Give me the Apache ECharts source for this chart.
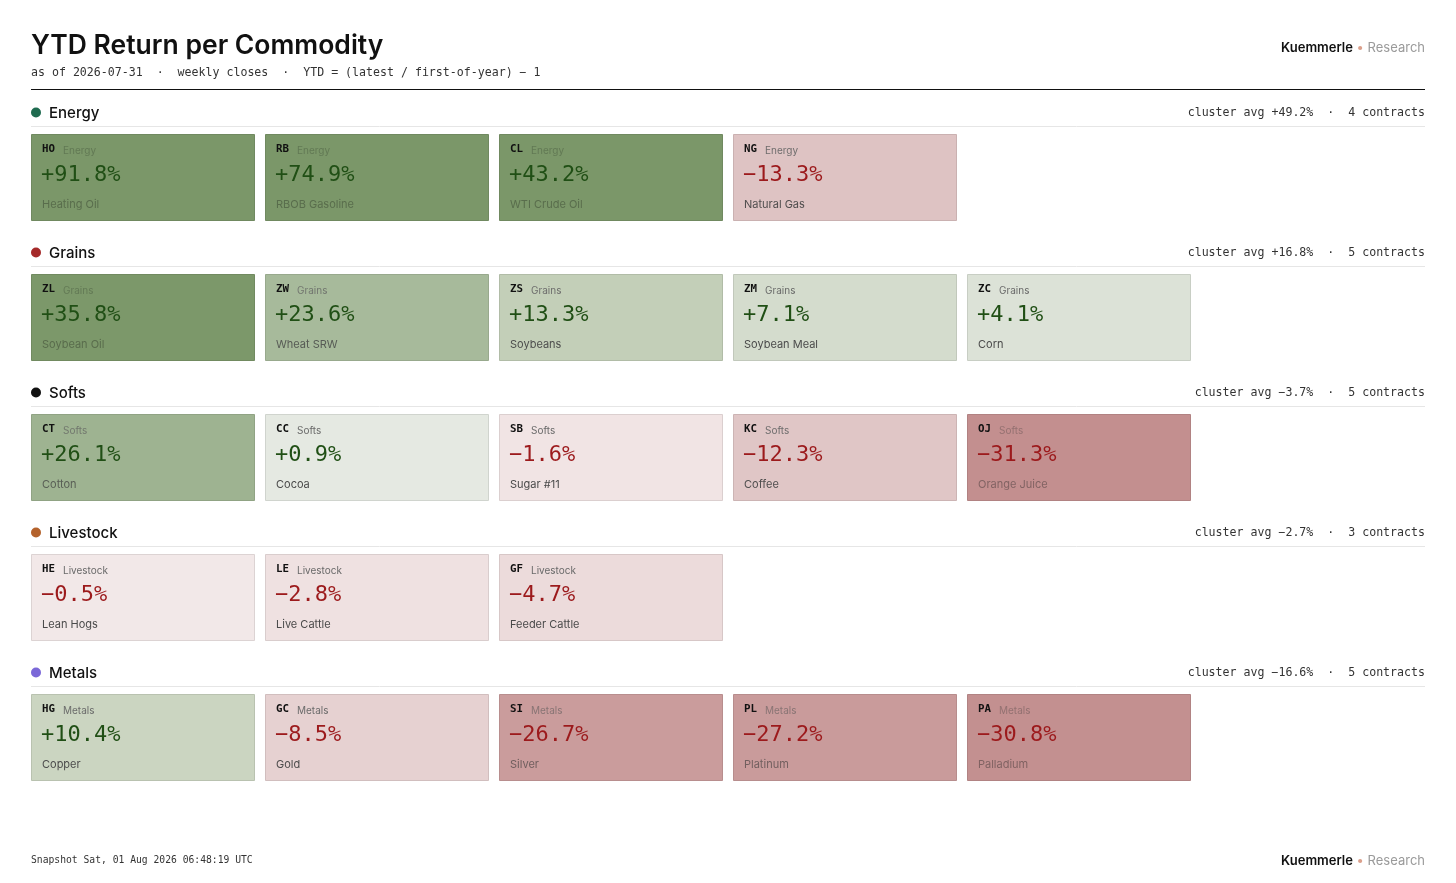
<!DOCTYPE html>
<html lang="en">
<head>
<meta charset="UTF-8">
<title>YTD Return per Commodity</title>
<style>
    html, body { margin: 0; padding: 0; background: #fff; }
    #chart { width: 1456px; height: 883px; }
</style>
</head>
<body>
<div id="chart"></div>
<script src="https://cdn.jsdelivr.net/npm/echarts@6/dist/echarts.min.js"></script>
<script>
    // data
    var clusters = ['Energy', 'Grains', 'Softs', 'Livestock', 'Metals'];
    var columns = ['c1', 'c2', 'c3', 'c4', 'c5', 'c6'];
    var tickers = [
        ['HO', 'RB', 'CL', 'NG'],
        ['ZL', 'ZW', 'ZS', 'ZM', 'ZC'],
        ['CT', 'CC', 'SB', 'KC', 'OJ'],
        ['HE', 'LE', 'GF'],
        ['HG', 'GC', 'SI', 'PL', 'PA']
    ];
    var names = [
        ['Heating Oil', 'RBOB Gasoline', 'WTI Crude Oil', 'Natural Gas'],
        ['Soybean Oil', 'Wheat SRW', 'Soybeans', 'Soybean Meal', 'Corn'],
        ['Cotton', 'Cocoa', 'Sugar #11', 'Coffee', 'Orange Juice'],
        ['Lean Hogs', 'Live Cattle', 'Feeder Cattle'],
        ['Copper', 'Gold', 'Silver', 'Platinum', 'Palladium']
    ];
    var ytd = [
        [91.8, 74.9, 43.2, -13.3],
        [35.8, 23.6, 13.3, 7.1, 4.1],
        [26.1, 0.9, -1.6, -12.3, -31.3],
        [-0.5, -2.8, -4.7],
        [10.4, -8.5, -26.7, -27.2, -30.8]
    ];
    var clusterAvg = [49.2, 16.8, -3.7, -2.7, -16.6];

    var subtitle = 'as of 2026-07-31  \u00b7  weekly closes  \u00b7  YTD = (latest / first-of-year) \u2212 1';
    var snapshot = 'Snapshot Sat, 01 Aug 2026 06:48:19 UTC';

    // styles
    var SANS = 'Inter, "Noto Sans", sans-serif';
    var MONO = '"DejaVu Sans Mono", monospace';
    var dotColors = ['#1f6b50', '#a52a2a', '#111111', '#b4622c', '#7b68d8'];
    var greenStops = ['#e8ebe5', '#c6d2bc', '#a6b99a', '#7b9769'];
    var redStops = ['#f3e9e9', '#c08a8a'];

    function fmt(v) {
        return (v < 0 ? '\u2212' : '+') + Math.abs(v).toFixed(1) + '%';
    }
    function strength(v) {
        return v >= 0 ? Math.min(v / 36, 1) : Math.min(-v / 33, 1);
    }
    function tileFill(v) {
        return v >= 0 ? echarts.color.lerp(strength(v), greenStops) : echarts.color.lerp(strength(v), redStops);
    }

    var tileData = [];
    ytd.forEach(function (row, r) {
        row.forEach(function (v, c) {
            tileData.push([c, r, v]);
        });
    });
    var headerData = clusters.map(function (name, r) {
        return [0, r, clusterAvg[r], ytd[r].length];
    });

    function renderTile(params, api) {
        var c = api.value(0), r = api.value(1), v = api.value(2);
        var p = api.coord([c, r]);
        var band = api.size([1, 1]);
        var x0 = Math.round(p[0] - band[0] / 2);
        var top = Math.round(p[1] - band[1] / 2 + 36);
        var w = band[0] - 10, h = 87;
        var fill = tileFill(v);
        var k = Math.pow(strength(v), 3);
        // on strong tiles the small texts take a darkened tint of the tile
        var nameColor = echarts.color.lerp(k, ['#4a4a4a', echarts.color.lerp(0.28, [fill, '#000000'])]);
        var labelColor = echarts.color.lerp(k, ['#6a6a6a', echarts.color.lerp(0.2, [fill, '#000000'])]);
        return {
            type: 'group',
            children: [
                {
                    type: 'rect',
                    shape: {x: x0 + 0.5, y: top + 0.5, width: w - 1, height: h - 1},
                    style: {fill: fill, stroke: echarts.color.lerp(0.09, [fill, '#000000']), lineWidth: 1}
                },
                {
                    type: 'text',
                    style: {x: x0 + 11, y: top + 15, text: tickers[r][c], font: 'bold 10.8px ' + MONO,
                        fill: '#111', verticalAlign: 'middle'}
                },
                {
                    type: 'text',
                    style: {x: x0 + 32, y: top + 16.5, text: clusters[r], font: '10px ' + SANS,
                        fill: labelColor, verticalAlign: 'middle'}
                },
                {
                    type: 'text',
                    style: {x: x0 + 10, y: top + 41.5, text: fmt(v), font: '22px ' + MONO,
                        fill: v >= 0 ? '#204f15' : '#9c1a1c', verticalAlign: 'middle'}
                },
                {
                    type: 'text',
                    style: {x: x0 + 11, y: top + 71, text: names[r][c], font: '11px ' + SANS,
                        fill: nameColor, verticalAlign: 'middle'}
                }
            ]
        };
    }

    function renderHeader(params, api) {
        var r = api.value(1), avg = api.value(2), n = api.value(3);
        var p = api.coord([0, r]);
        var band = api.size([1, 1]);
        var cs = params.coordSys;
        var left = cs.x, right = cs.x + cs.width - 10;
        var y0 = Math.round(p[1] - band[1] / 2);
        return {
            type: 'group',
            children: [
                {type: 'circle', shape: {cx: left + 5, cy: y0 + 14.5, r: 5}, style: {fill: dotColors[r]}},
                {
                    type: 'text',
                    style: {x: left + 18, y: y0 + 15, text: clusters[r], font: '500 15px ' + SANS,
                        fill: '#111', verticalAlign: 'middle'}
                },
                {
                    type: 'text',
                    style: {x: right, y: y0 + 15, text: 'cluster avg ' + fmt(avg) + '  \u00b7  ' + n + ' contracts',
                        font: '11.6px ' + MONO, fill: '#333', align: 'right', verticalAlign: 'middle'}
                },
                {
                    type: 'line',
                    shape: {x1: left, y1: y0 + 28.5, x2: right, y2: y0 + 28.5},
                    style: {stroke: '#e6e6e6', lineWidth: 1}
                }
            ]
        };
    }

    function brand(y) {
        return {
            type: 'text',
            x: 1425,
            y: y,
            style: {
                text: '{a|Kuemmerle} {b|\u2022} {c|Research}',
                align: 'right',
                verticalAlign: 'middle',
                font: '13px ' + SANS,
                rich: {
                    a: {fontFamily: SANS, fontSize: 13, fontWeight: 600, fill: '#111111'},
                    b: {fontFamily: SANS, fontSize: 13, fill: '#dba08c'},
                    c: {fontFamily: SANS, fontSize: 13, fill: '#9a9a9a'}
                }
            }
        };
    }

    var chart = echarts.init(document.getElementById('chart'));
    var option = {
        backgroundColor: '#ffffff',
        animation: false,
        title: {
            text: 'YTD Return per Commodity',
            subtext: subtitle,
            left: 31,
            top: 31,
            padding: 0,
            itemGap: 4,
            textStyle: {fontFamily: SANS, fontSize: 26.5, fontWeight: 600, color: '#111', lineHeight: 31},
            subtextStyle: {fontFamily: MONO, fontSize: 11.6, color: '#333', lineHeight: 14}
        },
        grid: {left: 31, top: 98, width: 1404, height: 700},
        xAxis: {
            type: 'category',
            data: columns,
            show: false
        },
        yAxis: {
            type: 'category',
            data: clusters,
            inverse: true,
            show: false
        },
        graphic: [
            {
                type: 'line',
                shape: {x1: 31, y1: 89.5, x2: 1425, y2: 89.5},
                style: {stroke: '#111', lineWidth: 1.2}
            },
            brand(48),
            brand(861),
            {
                type: 'text',
                x: 31,
                y: 860,
                style: {text: snapshot, font: '9.7px ' + MONO, fill: '#333', verticalAlign: 'middle'}
            }
        ],
        series: [
            {
                type: 'custom',
                name: 'headers',
                renderItem: renderHeader,
                data: headerData,
                silent: true
            },
            {
                type: 'custom',
                name: 'YTD',
                renderItem: renderTile,
                data: tileData
            }
        ]
    };
    chart.setOption(option);
</script>
</body>
</html>
